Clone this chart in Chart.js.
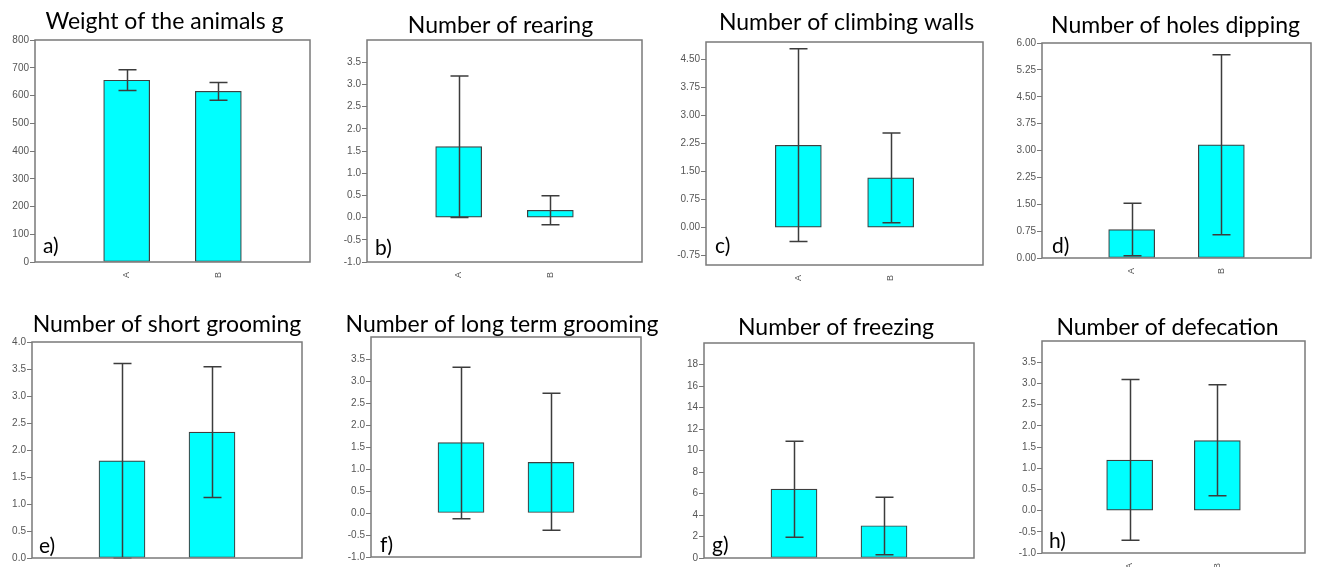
<!DOCTYPE html>
<html>
<head>
<meta charset="utf-8">
<title>Behaviour panels</title>
<script src="https://cdn.jsdelivr.net/npm/chart.js@4"></script>
<style>
  html, body { margin: 0; padding: 0; background: #fff; overflow: hidden; }
  body { width: 1318px; height: 567px; position: relative; }
  canvas { position: absolute; }
</style>
</head>
<body>
<script>
// groups on the x axis
const categories = ['A', 'B'];

// bar heights (means) and error bar ends
const weightMean = [655, 615];
const weightLow = [618, 583];
const weightHigh = [693, 647];

const rearingMean = [1.6, 0.165];
const rearingLow = [0.0, -0.16];
const rearingHigh = [3.19, 0.49];

const climbingMean = [2.2, 1.33];
const climbingLow = [-0.37, 0.13];
const climbingHigh = [4.78, 2.53];

const holesMean = [0.79, 3.16];
const holesLow = [0.06, 0.65];
const holesHigh = [1.53, 5.67];

const shortMean = [1.8, 2.33];
const shortLow = [0.0, 1.12];
const shortHigh = [3.6, 3.54];

const longMean = [1.6, 1.15];
const longLow = [-0.13, -0.39];
const longHigh = [3.31, 2.72];

const freezingMean = [6.4, 3.0];
const freezingLow = [1.94, 0.3];
const freezingHigh = [10.86, 5.65];

const defecationMean = [1.19, 1.65];
const defecationLow = [-0.70, 0.35];
const defecationHigh = [3.09, 2.97];

// y tick values per panel
const weightTicks = [0, 100, 200, 300, 400, 500, 600, 700, 800];
const halfTicks = [-1.0, -0.5, 0.0, 0.5, 1.0, 1.5, 2.0, 2.5, 3.0, 3.5];
const climbingTicks = [-0.75, 0.00, 0.75, 1.50, 2.25, 3.00, 3.75, 4.50];
const holesTicks = [0.00, 0.75, 1.50, 2.25, 3.00, 3.75, 4.50, 5.25, 6.00];
const shortTicks = [0.0, 0.5, 1.0, 1.5, 2.0, 2.5, 3.0, 3.5, 4.0];
const freezingTicks = [0, 2, 4, 6, 8, 10, 12, 14, 16, 18];

const panels = [
  { title: 'Weight of the animals g', letter: 'a)', mean: weightMean, low: weightLow, high: weightHigh,
    min: 0, max: 800, ticks: weightTicks, dec: 0,
    box: [35, 40, 310, 262], tdx: -8, tdy: -11, ldx: 8, ldy: -9 },
  { title: 'Number of rearing', letter: 'b)', mean: rearingMean, low: rearingLow, high: rearingHigh,
    min: -1, max: 4, ticks: halfTicks, dec: 1,
    box: [367, 40, 642, 262], tdx: -4, tdy: -7, ldx: 8, ldy: -7 },
  { title: 'Number of climbing walls', letter: 'c)', mean: climbingMean, low: climbingLow, high: climbingHigh,
    min: -1, max: 4.96, ticks: climbingTicks, dec: 2,
    box: [706, 42, 983, 265], tdx: 2, tdy: -12, ldx: 9, ldy: -12 },
  { title: 'Number of holes dipping', letter: 'd)', mean: holesMean, low: holesLow, high: holesHigh,
    min: 0, max: 6, ticks: holesTicks, dec: 2,
    box: [1042, 43, 1311, 258], tdx: -1, tdy: -10, ldx: 10, ldy: -5 },
  { title: 'Number of short grooming', letter: 'e)', mean: shortMean, low: shortLow, high: shortHigh,
    min: 0, max: 4, ticks: shortTicks, dec: 1,
    box: [32, 342, 302, 558], tdx: 0, tdy: -10, ldx: 7, ldy: -5 },
  { title: 'Number of long term grooming', letter: 'f)', mean: longMean, low: longLow, high: longHigh,
    min: -1, max: 4, ticks: halfTicks, dec: 1,
    box: [371, 337, 641, 557], tdx: -4, tdy: -5, ldx: 9, ldy: -5 },
  { title: 'Number of freezing', letter: 'g)', mean: freezingMean, low: freezingLow, high: freezingHigh,
    min: 0, max: 20, ticks: freezingTicks, dec: 0,
    box: [704, 343, 974, 558], tdx: -3, tdy: -8, ldx: 8, ldy: -6 },
  { title: 'Number of defecation', letter: 'h)', mean: defecationMean, low: defecationLow, high: defecationHigh,
    min: -1, max: 4, ticks: halfTicks, dec: 1,
    box: [1042, 341, 1305, 553], tdx: -6, tdy: -6, ldx: 7, ldy: -5 }
];

const AXIS_W = 34, PAD_TOP = 40, PAD_RIGHT = 20, XAXIS_H = 20;

// error bars, frame, title and panel letter
const panelDecor = {
  id: 'panelDecor',
  afterDatasetsDraw(chart, args, opts) {
    const p = opts.panel;
    const ctx = chart.ctx;
    const y = chart.scales.y;
    const meta = chart.getDatasetMeta(0);
    ctx.save();
    ctx.strokeStyle = '#3c3c3c';
    ctx.lineWidth = 1.5;
    p.mean.forEach((m, i) => {
      const bar = meta.data[i + 1];
      const x = Math.round(bar.x) + 0.5;
      const yl = y.getPixelForValue(p.low[i]);
      const yh = y.getPixelForValue(p.high[i]);
      ctx.beginPath();
      ctx.moveTo(x, yl); ctx.lineTo(x, yh);
      ctx.moveTo(x - 9, yl); ctx.lineTo(x + 9, yl);
      ctx.moveTo(x - 9, yh); ctx.lineTo(x + 9, yh);
      ctx.stroke();
    });
    ctx.restore();
  },
  afterDraw(chart, args, opts) {
    const p = opts.panel;
    const ctx = chart.ctx;
    const a = chart.chartArea;
    ctx.save();
    ctx.strokeStyle = '#7a7a7a';
    ctx.lineWidth = 1.5;
    ctx.strokeRect(a.left, a.top, a.right - a.left, a.bottom - a.top);
    ctx.fillStyle = '#000';
    ctx.font = '23px Lato';
    ctx.textAlign = 'center';
    ctx.textBaseline = 'alphabetic';
    ctx.fillText(p.title, (a.left + a.right) / 2 + p.tdx, a.top + p.tdy);
    ctx.textAlign = 'left';
    ctx.font = '21px Lato';
    ctx.fillText(p.letter, a.left + p.ldx, a.bottom + p.ldy);
    ctx.restore();
  }
};

panels.forEach((p) => {
  const [L, T, R, B] = p.box;
  const cv = document.createElement('canvas');
  const w = (R - L) + AXIS_W + PAD_RIGHT;
  const h = (B - T) + PAD_TOP + XAXIS_H;
  cv.width = w; cv.height = h;
  cv.style.left = (L - AXIS_W) + 'px';
  cv.style.top = (T - PAD_TOP) + 'px';
  cv.style.width = w + 'px';
  cv.style.height = h + 'px';
  document.body.appendChild(cv);

  new Chart(cv, {
    type: 'bar',
    data: {
      labels: ['', ...categories, ''],
      datasets: [{
        data: [null, ...p.mean, null],
        backgroundColor: '#00ffff',
        borderColor: '#3f3f3f',
        borderWidth: 1.2,
        barThickness: 46,
        borderSkipped: false
      }]
    },
    options: {
      responsive: false,
      animation: false,
      devicePixelRatio: 1,
      layout: { padding: { left: 0, top: PAD_TOP, right: PAD_RIGHT, bottom: 0 } },
      plugins: {
        legend: { display: false },
        tooltip: { enabled: false },
        panelDecor: { panel: p }
      },
      scales: {
        x: {
          offset: false,
          grid: { display: false },
          border: { display: false },
          ticks: { minRotation: 90, maxRotation: 90, autoSkip: false, padding: 2,
                   color: '#555', font: { family: 'Liberation Sans', size: 9 } },
          afterFit: (s) => { s.height = XAXIS_H; }
        },
        y: {
          min: p.min,
          max: p.max,
          border: { display: false },
          grid: { drawOnChartArea: false, drawTicks: true, tickLength: 5, color: '#777', lineWidth: 1 },
          ticks: { padding: 1, color: '#555', font: { family: 'Liberation Sans', size: 10 },
                   callback: (v) => Number(v).toFixed(p.dec) },
          afterBuildTicks: (s) => { s.ticks = p.ticks.map((v) => ({ value: v })); },
          afterFit: (s) => { s.width = AXIS_W; }
        }
      }
    },
    plugins: [panelDecor]
  });
});
</script>
</body>
</html>
